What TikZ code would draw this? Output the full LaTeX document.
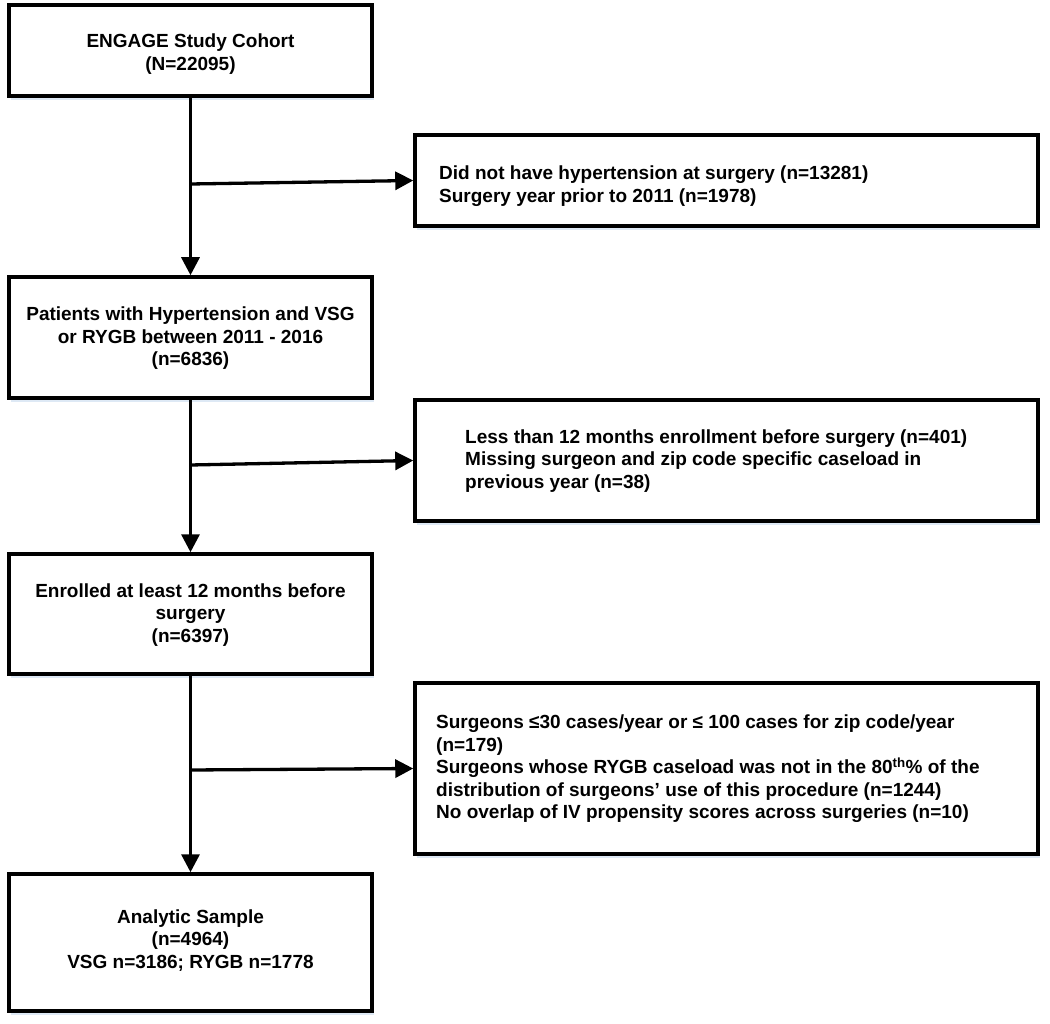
\documentclass[tikz,border=0pt]{standalone}
\usepackage{fontspec}
\setmainfont{Liberation Sans}
\usetikzlibrary{arrows.meta,shadows}
\definecolor{shadowblue}{RGB}{222,233,245}
\begin{document}
\begin{tikzpicture}[x=1pt,y=-1pt,
  box/.style={draw=black, line width=3.5pt, fill=white, rectangle, inner sep=0pt,
    drop shadow={shadow xshift=2pt, shadow yshift=-4pt, fill=shadowblue, opacity=1}},
  ctxt/.style={align=center, inner sep=0pt, font=\bfseries\fontsize{19pt}{22.5pt}\selectfont},
  ltxt/.style={align=left, anchor=west, inner sep=0pt, font=\bfseries\fontsize{19pt}{22.5pt}\selectfont},
  conn/.style={line width=3.3pt, -{Triangle[length=18pt,width=18pt]}},
  plain/.style={line width=3.3pt}]
\useasboundingbox (0,0) rectangle (1050,1024);
\fill[white] (0,0) rectangle (1050,1024);
% left column boxes
\node[box, minimum width=363pt, minimum height=91pt] (b1) at (190.5,50.5) {};
\node[box, minimum width=363pt, minimum height=121pt] (b3) at (190.5,337.5) {};
\node[box, minimum width=363pt, minimum height=120pt] (b5) at (190.5,614) {};
\node[box, minimum width=363pt, minimum height=137pt] (b7) at (190.5,942.5) {};
% right column boxes
\node[box, minimum width=623pt, minimum height=91pt] (b2) at (726.5,180.5) {};
\node[box, minimum width=623pt, minimum height=121pt] (b4) at (726.5,460.5) {};
\node[box, minimum width=623pt, minimum height=171pt] (b6) at (726.5,768.5) {};
% texts
\node[ctxt] (t1) at (190.5,54) {ENGAGE Study Cohort\\(N=22095)};
\node[ctxt] (t3) at (190.5,338.5) {Patients with Hypertension and VSG\\or RYGB between 2011 - 2016\\(n=6836)};
\node[ctxt] (t5) at (190.5,615) {Enrolled at least 12 months before\\surgery\\(n=6397)};
\node[ctxt] (t7) at (190.5,940.5) {Analytic Sample\\(n=4964)\\VSG n=3186; RYGB n=1778};
\node[ltxt] (t2) at (439,186) {Did not have hypertension at surgery (n=13281)\\Surgery year prior to 2011 (n=1978)};
\node[ltxt] (t4) at (465,461) {Less than 12 months enrollment before surgery (n=401)\\Missing surgeon and zip code specific caseload in\\previous year (n=38)};
\node[ltxt] (t6) at (436,769) {Surgeons ≤30 cases/year or ≤ 100 cases for zip code/year\\(n=179)\\Surgeons whose RYGB caseload was not in the 80\textsuperscript{th}\% of the\\distribution of surgeons’ use of this procedure (n=1244)\\No overlap of IV propensity scores across surgeries (n=10)};
% junctions
\coordinate (j1) at (190.5,184);
\coordinate (j2) at (190.5,465);
\coordinate (j3) at (190.5,770);
% connectors
\draw[conn] (b1.south) -- (b3.north);
\draw[conn] (b3.south) -- (b5.north);
\draw[conn] (b5.south) -- (b7.north);
\draw[conn] (j1) -- (b2.west);
\draw[conn] (j2) -- (b4.west);
\draw[conn] (j3) -- (b6.west);
\end{tikzpicture}
\end{document}
